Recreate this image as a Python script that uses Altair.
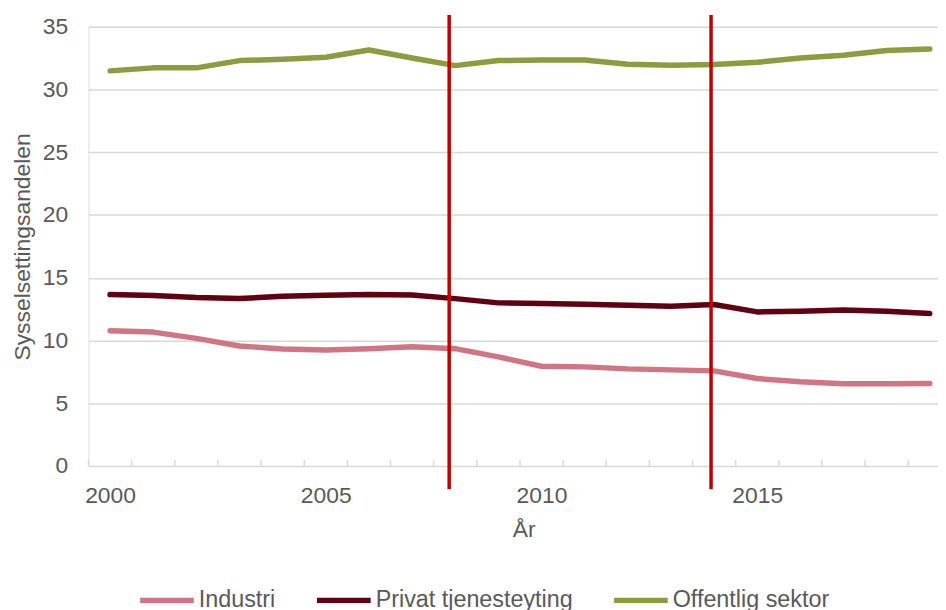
import altair as alt
import pandas as pd

years = list(range(2000, 2020))
industri = [10.78, 10.67, 10.17, 9.56, 9.33, 9.25, 9.35, 9.51, 9.35, 8.70,
            7.95, 7.90, 7.74, 7.66, 7.58, 6.97, 6.71, 6.55, 6.55, 6.58]
privat = [13.66, 13.58, 13.42, 13.34, 13.53, 13.61, 13.66, 13.63, 13.34, 13.00,
          12.95, 12.89, 12.81, 12.73, 12.87, 12.28, 12.34, 12.44, 12.34, 12.15]
offentlig = [31.49, 31.73, 31.73, 32.31, 32.41, 32.57, 33.15, 32.52, 31.91, 32.31,
             32.36, 32.36, 32.02, 31.94, 31.99, 32.17, 32.52, 32.73, 33.12, 33.23]
series_names = ["Industri", "Privat tjenesteyting", "Offentlig sektor"]
series_colors = ["#D07683", "#600010", "#8E9B3E"]
marker_years = [2007.86, 2013.93]
marker_top = 35.95
marker_bottom = -1.85
x_labels = [2000, 2005, 2010, 2015]
y_ticks = [0, 5, 10, 15, 20, 25, 30, 35]

rows = []
for name, vals in zip(series_names, [industri, privat, offentlig]):
    for yr, v in zip(years, vals):
        rows.append({"År": yr, "Andel": v, "Serie": name})
df = pd.DataFrame(rows)

markers = pd.DataFrame({"År": marker_years, "Andel": [marker_top] * 2,
                        "Andel2": [marker_bottom] * 2})
ticks = pd.DataFrame({"År": [y - 0.5 for y in years], "Andel": [0] * 20,
                      "Andel2": [0.475] * 20})

FONT = "Liberation Sans"
TXT = "#595959"
GRID = "#D9D9D9"

xscale = alt.Scale(domain=[1999.5, 2019.19], nice=False, zero=False)
yscale = alt.Scale(domain=[0, 35], nice=False)

xaxis = alt.Axis(values=x_labels, format="d", title="År", grid=False, domain=False,
                 ticks=False, labelPadding=19, labelFontSize=23, labelColor=TXT,
                 labelFont=FONT, titleFont=FONT, titleFontSize=23, titleColor=TXT,
                 titleFontWeight="normal", titleX=438, titleY=71,
                 titleBaseline="alphabetic", labelFlush=False)
yaxis = alt.Axis(values=y_ticks, title="Sysselsettingsandelen", grid=True,
                 gridColor=GRID, gridWidth=1.5, domain=False, ticks=False,
                 labelPadding=21, labelFontSize=23, labelColor=TXT, labelFont=FONT,
                 titleFont=FONT, titleFontSize=23, titleColor=TXT,
                 titleFontWeight="normal", titleAngle=270, titleX=-66,
                 titleY=221, titleAlign="center", titleBaseline="middle")

lines = alt.Chart(df).mark_line(strokeWidth=5.5, strokeCap="round", strokeJoin="round").encode(
    x=alt.X("År:Q", scale=xscale, axis=xaxis),
    y=alt.Y("Andel:Q", scale=yscale, axis=yaxis),
    color=alt.Color("Serie:N", scale=alt.Scale(domain=series_names, range=series_colors),
                    legend=alt.Legend(title=None, orient="none", direction="horizontal",
                                      legendX=49, legendY=547, symbolType="stroke",
                                      symbolSize=2916, symbolStrokeWidth=5.5,
                                      labelFontSize=23.5, labelFont=FONT, labelColor=TXT,
                                      labelOffset=2, columnPadding=30, labelLimit=400)),
)

tick_rules = alt.Chart(ticks).mark_rule(color=GRID, strokeWidth=1.5).encode(
    x=alt.X("År:Q", scale=xscale, axis=xaxis),
    y=alt.Y("Andel:Q", scale=yscale, axis=yaxis),
    y2="Andel2:Q",
)

marker_rules = alt.Chart(markers).mark_rule(color="#C00000", strokeWidth=3.5).encode(
    x=alt.X("År:Q", scale=xscale, axis=xaxis),
    y=alt.Y("Andel:Q", scale=yscale, axis=yaxis),
    y2="Andel2:Q",
)

chart = alt.layer(lines, tick_rules, marker_rules).properties(
    width=855, height=442,
    autosize=alt.AutoSizeParams(type="none"),
    padding={"left": 81, "top": 17, "right": 0, "bottom": 143},
).configure_view(strokeWidth=0).configure(font=FONT)

chart.save("out.html", embed_options={"renderer": "svg", "actions": False})
